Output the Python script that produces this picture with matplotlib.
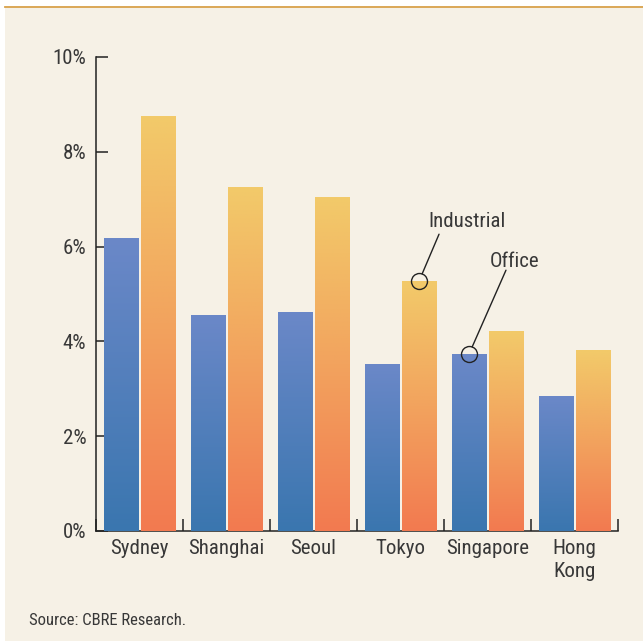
import matplotlib
matplotlib.use('Agg')
import matplotlib.pyplot as plt
import numpy as np
from matplotlib import font_manager
from matplotlib.colors import LinearSegmentedColormap
from matplotlib.patches import Rectangle
from matplotlib.lines import Line2D

# ---- data ----
cities = ['Sydney', 'Shanghai', 'Seoul', 'Tokyo', 'Singapore', 'Hong\nKong']
office = [6.18, 4.54, 4.62, 3.52, 3.73, 2.83]
industrial = [8.75, 7.24, 7.03, 5.27, 4.20, 3.80]
yticks = [0, 2, 4, 6, 8, 10]
ytick_labels = ['0%', '2%', '4%', '6%', '8%', '10%']
source_text = 'Source: CBRE Research.'
label_industrial = 'Industrial'
label_office = 'Office'

# ---- fonts ----
avail = {f.name for f in font_manager.fontManager.ttflist}
fams = [f for f in ['Liberation Sans Narrow', 'Roboto Condensed', 'DejaVu Sans Condensed',
                    'Liberation Sans'] if f in avail] + ['DejaVu Sans']
plt.rcParams['font.family'] = fams

cream = '#F6F1E6'
txt = '#383838'
dark = '#222222'
W, H = 643, 642

fig = plt.figure(figsize=(W / 100, H / 100), dpi=100, facecolor='white')
fig.patches.append(Rectangle((5 / W, 1 / H), 1 - 5 / W, (H - 7) / H, transform=fig.transFigure,
                             facecolor=cream, edgecolor='none', zorder=-10))
fig.lines.append(Line2D([5 / W, 1], [1 - 6.5 / H] * 2, transform=fig.transFigure,
                        color='#D9A24B', lw=1.3))

ax = fig.add_axes([96 / W, 111 / H, (618 - 96) / W, (585 - 111) / H])
ax.set_facecolor('none')

x = np.arange(len(cities)) + 0.5
off = 0.213
bw = 0.40
bars_o = ax.bar(x - off, office, width=bw, color='none', edgecolor='none')
bars_i = ax.bar(x + off, industrial, width=bw, color='none', edgecolor='none')

cmap_o = LinearSegmentedColormap.from_list('o', ['#3A76AF', '#6B88C8'])
cmap_i = LinearSegmentedColormap.from_list('i', ['#F37A50', '#F2A35E', '#F2CA6A'])
grad = np.linspace(0, 1, 256).reshape(-1, 1)
for bars, cm in ((bars_o, cmap_o), (bars_i, cmap_i)):
    for b in bars:
        x0, w, h = b.get_x(), b.get_width(), b.get_height()
        ax.imshow(grad, extent=[x0, x0 + w, 0, h], origin='lower', aspect='auto',
                  cmap=cm, zorder=3, interpolation='bilinear')

ax.set_xlim(0, len(cities))
ax.set_ylim(0, 10)

for s in ('top', 'right'):
    ax.spines[s].set_visible(False)
for s in ('left', 'bottom'):
    ax.spines[s].set_color(dark)
    ax.spines[s].set_linewidth(1.1)

ax.set_yticks(yticks, ytick_labels)
ax.tick_params(axis='y', direction='in', length=8.6, width=1.1, color=dark, pad=7,
               labelsize=15, labelcolor=txt)
ax.set_xticks(np.arange(len(cities) + 1))
ax.set_xticklabels([])
ax.tick_params(axis='x', which='major', direction='in', length=8.6, width=1.1, color=dark)
ax.set_xticks(x, cities, minor=True)
ax.tick_params(axis='x', which='minor', length=0, pad=5.5, labelsize=15, labelcolor=txt)
for t in ax.get_xticklabels(minor=True):
    t.set_linespacing(1.3)

# annotations
i_tok = 3
i_sin = 4
xi, yi = x[i_tok] + off, industrial[i_tok]
xo, yo = x[i_sin] - off, office[i_sin]
for (px, py) in ((xi, yi), (xo, yo)):
    ax.plot([px], [py], marker='o', ms=11.5, mfc='none', mec=dark, mew=1.0,
            zorder=6, clip_on=False)
ax.annotate('', xy=(xi, yi), xytext=(20, 47), textcoords='offset pixels',
            arrowprops=dict(arrowstyle='-', color=dark, lw=1.0, shrinkA=0, shrinkB=5.8),
            zorder=6)
ax.annotate(label_industrial, xy=(xi, yi), xytext=(9, 54), textcoords='offset pixels',
            ha='left', va='baseline', fontsize=15, color=txt, zorder=6)
ax.annotate('', xy=(xo, yo), xytext=(37, 84), textcoords='offset pixels',
            arrowprops=dict(arrowstyle='-', color=dark, lw=1.0, shrinkA=0, shrinkB=5.8),
            zorder=6)
ax.annotate(label_office, xy=(xo, yo), xytext=(21, 87), textcoords='offset pixels',
            ha='left', va='baseline', fontsize=15, color=txt, zorder=6)

fig.text(29 / W, 1 - 625 / H, source_text, ha='left', va='baseline', fontsize=12, color=txt)

fig.savefig('out.png', dpi=100, facecolor=fig.get_facecolor())
